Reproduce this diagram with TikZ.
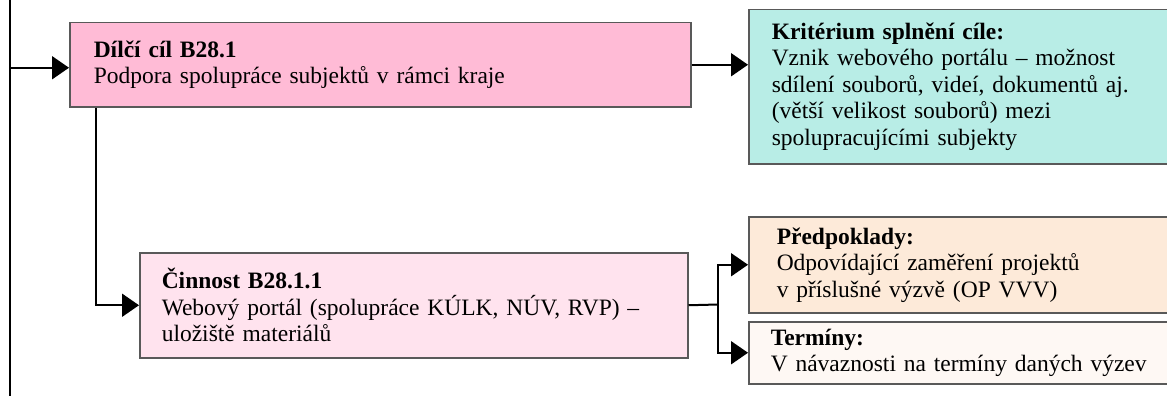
\documentclass[tikz,border=0pt]{standalone}
\usepackage{fontspec}
\setmainfont{Liberation Serif}[WordSpace=0.88]
\usepackage{xcolor}
\usetikzlibrary{arrows.meta,positioning}
\definecolor{goalpink}{HTML}{FFBBD6}
\definecolor{critteal}{HTML}{B8EDE6}
\definecolor{taskpink}{HTML}{FFE3EE}
\definecolor{condpeach}{HTML}{FDEAD9}
\definecolor{datecream}{HTML}{FEF8F4}
\tikzstyle{box} = [draw=black!65, line width=1.5pt, rectangle, align=left, anchor=north west]
\tikzstyle{link} = [line width=2pt, -{Triangle[length=17pt,width=23pt]}]

\begin{document}
\begin{tikzpicture}
    [x=1pt,y=-1pt,every node/.style={font=\fontsize{23.5}{26.5}\selectfont, inner ysep=0pt}]
    \useasboundingbox (0,0) rectangle (1167,396);
    \node[box, fill=goalpink, text width=573pt, inner xsep=24pt, minimum height=84pt] (goal) at (69,22)
        {\textbf{Dílčí cíl B28.1}\\Podpora spolupráce subjektů v rámci kraje};
    \node[box, fill=critteal, text width=384pt, inner xsep=23pt, minimum height=154pt] (crit) at (748,9)
        {\textbf{Kritérium splnění cíle:}\\Vznik webového portálu – možnost\\sdílení souborů, videí, dokumentů aj.\\(větší velikost souborů) mezi\\spolupracujícími subjekty};
    \node[box, fill=taskpink, text width=504pt, inner xsep=22pt, minimum height=105pt] (task) at (139,252)
        {\textbf{Činnost B28.1.1}\\Webový portál (spolupráce KÚLK, NÚV, RVP) –\\uložiště materiálů};
    \node[box, fill=condpeach, text width=374pt, inner xsep=28pt, minimum height=96pt] (cond) at (748,216)
        {\textbf{Předpoklady:}\\Odpovídající zaměření projektů\\v příslušné výzvě (OP VVV)};
    \node[box, fill=datecream, text width=386pt, inner xsep=22pt, minimum height=62pt] (date) at (748,321)
        {\textbf{Termíny:}\\V návaznosti na termíny daných výzev};
    \coordinate (top) at (10,0);
    \coordinate (bot) at (10,396);
    \coordinate (entry) at ([yshift=-3pt]goal.west);
    \coordinate (split) at (718,304.5);
    \draw[line width=2pt] (top) -- (bot);
    \draw[link] (top |- entry) -- (entry);
    \draw[link] (goal.east) -- (goal.east -| crit.west);
    \draw[link] ([xshift=27pt]goal.south west) |- (task.west);
    \draw[line width=2pt] (task.east) -- (split);
    \foreach \to in {cond,date}
    \draw[link] (split) |- (\to.west);
\end{tikzpicture}
\end{document}
